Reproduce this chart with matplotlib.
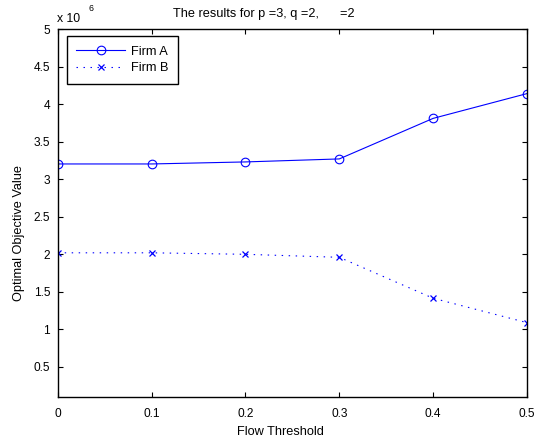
import numpy as np
import matplotlib.pyplot as plt

plt.rcParams['font.family'] = ['Liberation Sans', 'DejaVu Sans']

''' Data '''
flow_threshold = [0.0, 0.1, 0.2, 0.3, 0.4, 0.5]
firm_a = [3.203, 3.203, 3.23, 3.27, 3.81, 4.14]   # x 1e6
firm_b = [2.02, 2.02, 2.00, 1.96, 1.415, 1.09]    # x 1e6
y_ticks = [0.5, 1, 1.5, 2, 2.5, 3, 3.5, 4, 4.5, 5]
y_tick_labels = ['0.5', '1', '1.5', '2', '2.5', '3', '3.5', '4', '4.5', '5']
x_ticks = [0, 0.1, 0.2, 0.3, 0.4, 0.5]
x_tick_labels = ['0', '0.1', '0.2', '0.3', '0.4', '0.5']

W, H = 544.0, 447.0
fig = plt.figure(figsize=(W / 100, H / 100), dpi=100)
# axes box in pixels: left 57.7, right 527, top 29, bottom 397
ax = fig.add_axes([57.7 / W, 1 - 397 / H, (527 - 57.7) / W, (397 - 29) / H])

ax.plot(flow_threshold, firm_a, color='#0000ff', linestyle='-', linewidth=0.8,
        marker='o', markersize=6.2, markerfacecolor='none', markeredgewidth=0.8,
        label='Firm A')
ax.plot(flow_threshold, firm_b, color='#0000ff', linestyle=(0, (1.3, 5)),
        linewidth=0.8, marker='x', markersize=4.3, markeredgewidth=0.9,
        label='Firm B')

ax.set_xlim(0, 0.5)
ax.set_ylim(0.1, 5)
ax.set_xticks(x_ticks)
ax.set_xticklabels(x_tick_labels)
ax.set_yticks(y_ticks)
ax.set_yticklabels(y_tick_labels)
ax.tick_params(direction='in', top=True, right=True, length=3.3, width=0.8,
               labelsize=8.6)
ax.tick_params(axis='x', pad=8)
ax.tick_params(axis='y', pad=5.5)
for sp in ax.spines.values():
    sp.set_linewidth(1.0)

ax.set_xlabel('Flow Threshold', fontsize=9.2)
ax.xaxis.set_label_coords((280 - 57.7) / (527 - 57.7), (397 - 426) / 368.0)
ax.set_ylabel('Optimal Objective Value', fontsize=9.2)
ax.yaxis.set_label_coords((25 - 57.7) / (527 - 57.7), (397 - 233) / 368.0)

fig.text(173 / W, 1 - 17 / H, 'The results for p =3, q =2,      =2',
         fontsize=9.2, ha='left', va='baseline')

# exponent marker for the y axis
fig.text(57.3 / W, 1 - 21.7 / H, 'x 10', fontsize=8.8, ha='left', va='baseline')
fig.text(88.5 / W, 1 - 10.7 / H, '6', fontsize=6.3, ha='left', va='baseline')

leg = ax.legend(loc='upper left', bbox_to_anchor=(66.7 / W, 1 - 36 / H),
                bbox_transform=fig.transFigure, borderaxespad=0, fontsize=9.2,
                fancybox=False, edgecolor='black', framealpha=1,
                handlelength=3.8, borderpad=0.75, labelspacing=0.35,
                handletextpad=0.5)
leg.get_frame().set_linewidth(1.0)

plt.savefig('out.png', dpi=100)
